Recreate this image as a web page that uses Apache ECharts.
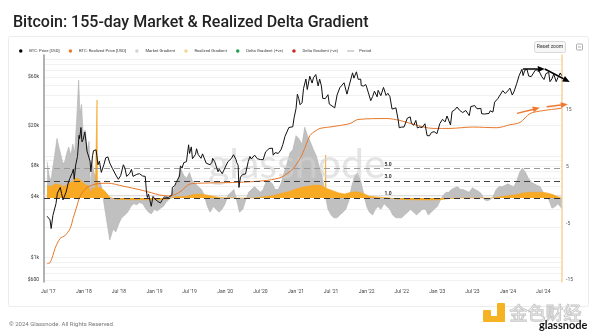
<!DOCTYPE html>
<html>
<head>
<meta charset="utf-8">
<script src="https://cdn.jsdelivr.net/npm/echarts@6/dist/echarts.min.js"></script>
<style>
html,body{margin:0;padding:0;background:#fff;}
#c{width:600px;height:335px;}
</style>
</head>
<body>
<div id="c"></div>
<script>
// ---------------- DATA ----------------
const btcPrice = [
['2017-06-25',2550],['2017-07-01',2480],['2017-07-10',2350],['2017-07-16',1930],['2017-07-25',2600],['2017-08-01',2720],['2017-08-10',3400],['2017-08-17',4300],['2017-08-25',4350],['2017-09-01',4900],['2017-09-08',4250],['2017-09-15',3700],['2017-09-22',3650],['2017-10-01',4400],['2017-10-12',5400],['2017-10-20',6000],['2017-11-01',6750],['2017-11-08',7450],['2017-11-12',5900],['2017-11-20',8200],['2017-11-29',9900],['2017-12-07',16000],['2017-12-10',14800],['2017-12-17',19100],['2017-12-22',13800],['2017-12-28',14500],['2018-01-06',17200],['2018-01-12',13900],['2018-01-17',11200],['2018-01-25',11200],['2018-02-02',8900],['2018-02-06',7000],['2018-02-15',10100],['2018-02-20',11300],['2018-03-01',10900],['2018-03-05',11500],['2018-03-15',8200],['2018-03-22',8900],['2018-04-01',6900],['2018-04-06',6600],['2018-04-15',8300],['2018-04-24',9600],['2018-05-05',9800],['2018-05-15',8500],['2018-05-29',7500],['2018-06-08',7600],['2018-06-15',6500],['2018-06-28',5900],['2018-07-10',6400],['2018-07-24',8200],['2018-08-01',7600],['2018-08-10',6300],['2018-08-14',6100],['2018-08-25',6700],['2018-09-04',7400],['2018-09-12',6300],['2018-09-20',6500],['2018-10-01',6600],['2018-10-15',6700],['2018-11-01',6350],['2018-11-14',6300],['2018-11-20',4500],['2018-11-25',3900],['2018-12-01',4200],['2018-12-15',3200],['2018-12-24',4000],['2019-01-01',3800],['2019-01-10',3650],['2019-01-20',3550],['2019-02-01',3450],['2019-02-08',3650],['2019-02-20',3950],['2019-03-01',3800],['2019-03-15',3900],['2019-04-01',4150],['2019-04-03',4900],['2019-04-15',5100],['2019-04-23',5500],['2019-05-01',5350],['2019-05-10',6350],['2019-05-15',8000],['2019-05-23',7600],['2019-06-01',8600],['2019-06-15',8800],['2019-06-26',12900],['2019-07-01',10600],['2019-07-10',12300],['2019-07-16',9400],['2019-08-01',10400],['2019-08-06',11800],['2019-08-15',10300],['2019-08-29',9500],['2019-09-06',10500],['2019-09-15',10300],['2019-09-25',8500],['2019-10-01',8300],['2019-10-15',8200],['2019-10-25',8700],['2019-10-28',9500],['2019-11-08',8800],['2019-11-15',8500],['2019-11-25',7000],['2019-12-01',7400],['2019-12-17',6700],['2019-12-25',7250],['2020-01-01',7200],['2020-01-15',8800],['2020-02-01',9400],['2020-02-13',10300],['2020-02-25',9300],['2020-03-01',8600],['2020-03-08',8100],['2020-03-12',4900],['2020-03-20',6200],['2020-04-01',6600],['2020-04-15',6650],['2020-04-29',8800],['2020-05-08',9900],['2020-05-15',9350],['2020-06-01',10200],['2020-06-15',9400],['2020-07-01',9230],['2020-07-15',9200],['2020-07-28',11000],['2020-08-15',11850],['2020-09-01',11950],['2020-09-05',10200],['2020-09-15',10800],['2020-10-01',10600],['2020-10-15',11500],['2020-10-25',13000],['2020-11-05',15600],['2020-11-15',16000],['2020-11-25',19100],['2020-12-01',19700],['2020-12-15',19400],['2020-12-22',23800],['2021-01-01',29400],['2021-01-08',40600],['2021-01-15',36800],['2021-01-22',32000],['2021-02-01',33500],['2021-02-09',46500],['2021-02-21',57400],['2021-02-28',45200],['2021-03-13',61200],['2021-03-25',52300],['2021-04-01',59000],['2021-04-13',63500],['2021-04-25',49000],['2021-05-03',57200],['2021-05-12',49200],['2021-05-19',37000],['2021-06-01',36700],['2021-06-15',40200],['2021-06-22',32500],['2021-07-01',33500],['2021-07-20',29800],['2021-08-01',39900],['2021-08-15',47000],['2021-09-06',52700],['2021-09-21',40700],['2021-10-01',48200],['2021-10-20',66000],['2021-10-27',58500],['2021-11-09',67500],['2021-11-18',56900],['2021-12-01',57200],['2021-12-04',49400],['2021-12-15',48900],['2021-12-27',50600],['2022-01-01',47700],['2022-01-10',41800],['2022-01-22',35100],['2022-02-01',38700],['2022-02-10',43500],['2022-02-24',38300],['2022-03-01',44400],['2022-03-15',39300],['2022-03-29',47400],['2022-04-11',39500],['2022-04-20',41500],['2022-05-01',38500],['2022-05-12',29000],['2022-05-20',29200],['2022-06-01',29800],['2022-06-13',22500],['2022-06-18',19000],['2022-07-01',19300],['2022-07-13',19300],['2022-07-30',23600],['2022-08-14',24300],['2022-08-20',21100],['2022-09-01',20100],['2022-09-12',22400],['2022-09-20',18900],['2022-10-01',19300],['2022-10-15',19100],['2022-10-29',20800],['2022-11-05',21200],['2022-11-09',15900],['2022-11-21',15800],['2022-12-01',17000],['2022-12-15',17400],['2022-12-30',16600],['2023-01-14',20900],['2023-01-28',23000],['2023-02-10',21700],['2023-02-20',24800],['2023-03-10',20200],['2023-03-18',27400],['2023-04-01',28500],['2023-04-13',30400],['2023-04-25',28300],['2023-05-12',26800],['2023-05-28',28100],['2023-06-15',25000],['2023-06-23',30700],['2023-07-13',31400],['2023-07-25',29200],['2023-08-14',29400],['2023-08-18',26100],['2023-09-01',25900],['2023-09-11',25200],['2023-09-25',26300],['2023-10-01',27900],['2023-10-15',27100],['2023-10-24',33900],['2023-11-09',36700],['2023-11-15',37900],['2023-12-05',44000],['2023-12-18',41300],['2024-01-01',44100],['2024-01-11',46600],['2024-01-23',39900],['2024-02-01',43000],['2024-02-15',51800],['2024-02-28',62400],['2024-03-05',63800],['2024-03-13',71500],['2024-03-19',62000],['2024-03-27',69400],['2024-04-08',71600],['2024-04-17',61300],['2024-04-30',60600],['2024-05-08',61200],['2024-05-21',70100],['2024-06-06',70800],['2024-06-24',60300],['2024-07-05',56700],['2024-07-15',64800],['2024-07-29',66800],['2024-08-05',54000],['2024-08-15',57500],['2024-08-24',64100],['2024-09-06',54000],['2024-09-15',59200],['2024-09-27',65800],['2024-10-04',62100]
];
const realizedPrice = [
['2017-06-25',870],['2017-07-10',890],['2017-07-25',1050],['2017-08-05',1230],['2017-08-31',1540],['2017-09-26',1650],['2017-10-22',1930],['2017-11-06',2420],['2017-11-27',3250],['2017-12-07',3800],['2017-12-25',4400],['2018-01-17',4900],['2018-03-15',5350],['2018-05-06',5400],['2018-07-22',5050],['2018-10-18',4650],['2018-12-15',4350],['2019-01-28',4130],['2019-03-22',4030],['2019-05-13',4450],['2019-07-03',5300],['2019-08-24',5400],['2019-12-01',5450],['2020-03-02',5500],['2020-07-15',5700],['2020-10-10',6100],['2020-11-20',6800],['2020-12-17',7500],['2021-01-15',9000],['2021-02-06',10800],['2021-03-14',15900],['2021-04-10',17600],['2021-05-05',18700],['2021-07-11',19500],['2021-10-07',20900],['2021-11-17',22900],['2022-04-16',23400],['2022-06-22',22400],['2022-09-01',20500],['2022-12-10',18700],['2023-03-07',18700],['2023-07-01',19300],['2023-11-05',19000],['2024-01-10',20300],['2024-03-03',21400],['2024-04-24',26200],['2024-06-30',28000],['2024-09-26',29400],['2024-10-04',29500]
];
const marketGradient = [
['2017-06-25',6.4],['2017-07-05',4.0],['2017-07-15',3.0],['2017-07-25',5.5],['2017-08-05',8.0],['2017-08-15',10.5],['2017-08-25',9.0],['2017-09-05',7.5],['2017-09-15',6.0],['2017-09-25',6.5],['2017-10-05',8.0],['2017-10-15',9.0],['2017-10-25',7.5],['2017-11-05',9.5],['2017-11-15',8.0],['2017-11-25',14.0],['2017-12-05',20.8],['2017-12-12',15.0],['2017-12-20',16.5],['2017-12-28',11.5],['2018-01-08',12.0],['2018-01-18',8.5],['2018-01-28',10.0],['2018-02-05',0.5],['2018-02-12',6.5],['2018-02-22',4.5],['2018-03-05',3.5],['2018-03-15',2.5],['2018-03-25',3.0],['2018-04-05',1.5],['2018-04-15',-1.0],['2018-05-01',-4.5],['2018-05-15',-7.4],['2018-06-01',-5.5],['2018-06-15',-6.0],['2018-07-01',-4.5],['2018-07-15',-3.5],['2018-08-01',-3.0],['2018-08-15',-2.5],['2018-09-01',-1.5],['2018-09-15',-1.0],['2018-10-01',-1.2],['2018-10-15',-0.8],['2018-11-01',-1.0],['2018-11-15',-1.8],['2018-12-01',-2.5],['2018-12-15',-2.8],['2019-01-01',-2.0],['2019-01-15',-2.3],['2019-02-01',-1.8],['2019-02-15',-1.5],['2019-03-01',-0.8],['2019-03-15',-0.3],['2019-04-01',0.8],['2019-04-15',2.0],['2019-05-01',3.0],['2019-05-15',5.3],['2019-06-01',4.0],['2019-06-15',3.5],['2019-07-01',4.5],['2019-07-15',3.0],['2019-08-01',2.5],['2019-08-15',2.0],['2019-09-01',1.5],['2019-09-15',0.5],['2019-10-01',-1.5],['2019-10-15',-2.5],['2019-11-01',-1.5],['2019-11-15',-2.0],['2019-12-01',-2.5],['2019-12-15',-2.0],['2020-01-01',-1.0],['2020-01-15',0.5],['2020-02-01',1.0],['2020-02-15',1.5],['2020-03-01',-0.5],['2020-03-15',-2.5],['2020-04-01',-2.0],['2020-04-15',-0.5],['2020-05-01',1.0],['2020-05-15',1.5],['2020-06-01',2.0],['2020-06-15',1.5],['2020-07-01',1.0],['2020-07-15',1.5],['2020-08-01',3.0],['2020-08-15',3.0],['2020-09-01',2.5],['2020-09-15',1.5],['2020-10-01',1.5],['2020-10-15',2.5],['2020-11-01',4.5],['2020-11-15',6.0],['2020-12-01',8.0],['2020-12-15',8.5],['2021-01-01',11.0],['2021-01-15',10.5],['2021-02-01',9.5],['2021-02-15',12.5],['2021-03-01',11.0],['2021-03-15',10.0],['2021-04-01',8.5],['2021-04-15',7.5],['2021-05-01',5.5],['2021-05-15',4.0],['2021-06-01',0.5],['2021-06-15',-2.0],['2021-07-01',-3.0],['2021-07-15',-3.5],['2021-08-01',-3.5],['2021-08-15',-3.0],['2021-09-01',-2.5],['2021-09-15',-2.0],['2021-10-01',-0.5],['2021-10-15',2.0],['2021-11-01',4.0],['2021-11-15',4.4],['2021-12-01',3.0],['2021-12-15',1.0],['2022-01-01',-1.5],['2022-01-15',-2.5],['2022-02-01',-3.0],['2022-02-15',-2.0],['2022-03-01',-1.5],['2022-03-15',-2.0],['2022-04-01',-1.0],['2022-04-15',-1.5],['2022-05-01',-2.0],['2022-05-15',-3.0],['2022-06-01',-3.5],['2022-06-15',-3.5],['2022-07-01',-3.5],['2022-07-15',-3.0],['2022-08-01',-2.5],['2022-08-15',-2.0],['2022-09-01',-2.5],['2022-09-15',-3.0],['2022-10-01',-2.5],['2022-10-15',-2.0],['2022-11-01',-2.0],['2022-11-15',-3.0],['2022-12-01',-2.5],['2022-12-15',-2.0],['2023-01-01',-1.5],['2023-01-15',-0.5],['2023-02-01',0.5],['2023-02-15',1.0],['2023-03-01',1.0],['2023-03-15',1.5],['2023-04-01',1.8],['2023-04-15',2.0],['2023-05-01',1.5],['2023-05-15',1.5],['2023-06-01',1.2],['2023-06-15',1.0],['2023-07-01',1.8],['2023-07-15',1.5],['2023-08-01',1.2],['2023-08-15',0.8],['2023-09-01',-0.3],['2023-09-15',-0.5],['2023-10-01',-0.3],['2023-10-15',0.2],['2023-11-01',1.5],['2023-11-15',2.0],['2023-12-01',2.0],['2023-12-15',2.2],['2024-01-01',2.5],['2024-01-15',2.2],['2024-02-01',2.0],['2024-02-15',3.0],['2024-03-01',4.5],['2024-03-15',5.3],['2024-04-01',4.5],['2024-04-15',3.5],['2024-05-01',2.8],['2024-05-15',2.5],['2024-06-01',2.2],['2024-06-15',2.0],['2024-07-01',1.0],['2024-07-15',0.5],['2024-08-01',-0.5],['2024-08-15',-1.8],['2024-09-01',-1.5],['2024-09-15',-1.0],['2024-10-04',-1.8]
];
const realizedGradient = [
['2017-06-25',2.2],['2017-07-15',2.0],['2017-08-05',2.5],['2017-09-01',2.3],['2017-09-20',2.0],['2017-10-10',2.5],['2017-11-01',2.8],['2017-11-20',3.5],['2017-12-10',3.3],['2017-12-25',2.8],['2018-01-10',2.3],['2018-01-25',2.2],['2018-02-05',0.8],['2018-02-12',1.8],['2018-03-01',1.6],['2018-03-08',1.7],['2018-03-10',17.3],['2018-03-12',1.7],['2018-03-25',1.9],['2018-04-10',1.5],['2018-04-25',1.0],['2018-05-10',0.3],['2018-05-25',0.0],['2018-06-15',-0.2],['2018-09-01',-0.3],['2018-12-01',-0.3],['2019-02-15',-0.3],['2019-03-20',-0.1],['2019-04-20',0.2],['2019-06-15',0.3],['2019-07-20',0.6],['2019-09-01',0.7],['2019-10-15',0.4],['2019-12-01',0.1],['2020-02-01',0.0],['2020-06-01',0.0],['2020-07-15',0.2],['2020-09-01',0.4],['2020-10-15',0.8],['2020-12-01',1.2],['2021-01-01',1.6],['2021-02-01',1.9],['2021-03-10',2.1],['2021-04-10',2.3],['2021-05-10',2.2],['2021-06-01',1.8],['2021-06-03',7.6],['2021-06-05',1.7],['2021-07-10',1.3],['2021-08-10',0.9],['2021-09-10',0.7],['2021-10-10',1.0],['2021-11-10',1.1],['2021-12-15',0.8],['2022-01-15',0.3],['2022-03-01',0.15],['2022-05-01',0.0],['2022-06-15',-0.2],['2022-08-15',-0.3],['2022-11-01',-0.35],['2023-01-15',-0.3],['2023-03-01',-0.1],['2023-05-01',0.0],['2023-10-15',0.0],['2023-11-20',0.2],['2024-01-01',0.4],['2024-02-15',0.6],['2024-03-20',0.9],['2024-05-01',1.0],['2024-06-20',1.0],['2024-07-20',0.9],['2024-08-20',0.6],['2024-09-15',0.2],['2024-10-04',0.0]
];
const xRange = ['2017-06-09', '2024-10-06'];
const xTickDates = ['2017-07-01','2018-01-01','2018-07-01','2019-01-01','2019-07-01','2020-01-01','2020-07-01','2021-01-01','2021-07-01','2022-01-01','2022-07-01','2023-01-01','2023-07-01','2024-01-01','2024-07-01'];
const priceTicks = [600, 1000, 4000, 8000, 20000, 60000];
const priceGrid = [600,700,800,900,1000,2000,3000,4000,5000,6000,7000,8000,9000,10000,20000,30000,40000,50000,60000,70000,80000,90000];
const gradientTicks = [-15, -5, 5, 15];
const periodLevels = [5.24, 3.0, 0];
const periodLabels = ['5.0', '3.0', '1.0'];
const periodLabelDate = '2022-04-21';
const blackArrows = [[['2024-03-18',72000],['2024-07-09',72000]], [['2024-07-09',72000],['2024-11-15',53600]]];
const orangeArrows = [[['2024-02-16',26300],['2024-06-13',29900]], [['2024-07-19',30600],['2024-11-05',32300]]];

// ---------------- CHART ----------------
const ts = s => +echarts.time.parse(s);
const chart = echarts.init(document.getElementById('c'));
const FONT = 'Roboto';
const periodColors = ['#9a9a9a', '#444', '#333'];
const MON = ['Jan','Feb','Mar','Apr','May','Jun','Jul','Aug','Sep','Oct','Nov','Dec'];

const option = {
  animation: false,
  textStyle: { fontFamily: FONT },
  title: {
    text: 'Bitcoin: 155-day Market & Realized Delta Gradient',
    left: 8, top: 10,
    textStyle: { fontSize: 16, fontWeight: 500, color: '#222', fontFamily: FONT }
  },
  legend: {
    left: 14, top: 44,
    itemWidth: 7, itemHeight: 3.5, itemGap: 9,
    textStyle: { fontSize: 4.2, color: '#444' },
    data: [
      { name: 'BTC: Price [USD]', icon: 'circle', itemStyle: { color: '#000' } },
      { name: 'BTC: Realized Price [USD]', icon: 'circle', itemStyle: { color: '#ea7a2c' } },
      { name: 'Market Gradient', icon: 'circle', itemStyle: { color: '#d2d2d2' } },
      { name: 'Realized Gradient', icon: 'circle', itemStyle: { color: '#f7d38c' } },
      { name: 'Delta Gradient (+ve)', icon: 'circle', itemStyle: { color: '#1f9d50' } },
      { name: 'Delta Gradient (-ve)', icon: 'circle', itemStyle: { color: '#c62828' } },
      { name: 'Period', icon: 'path://M0,0H10V1H0Z', itemStyle: { color: '#888' } }
    ]
  },
  grid: { left: 44, right: 38, top: 55, bottom: 53 },
  xAxis: [
    {
      type: 'time', min: xRange[0], max: xRange[1],
      axisLine: { lineStyle: { color: '#dedede' } },
      axisTick: { show: false }, splitLine: { show: false },
      axisLabel: { show: false }
    },
    {
      type: 'value', min: ts(xRange[0]), max: ts(xRange[1]), position: 'bottom',
      axisLine: { show: false }, axisTick: { show: false }, splitLine: { show: false },
      axisLabel: {
        customValues: xTickDates.map(ts),
        fontSize: 5, color: '#444', margin: 7,
        formatter: function (v) {
          const d = new Date(v);
          return MON[d.getMonth()] + " '" + String(d.getFullYear()).slice(2);
        }
      }
    }
  ],
  yAxis: [
    {
      type: 'log', logBase: 10, min: 574, max: 98900, position: 'left',
      axisLine: { show: true, lineStyle: { color: '#999', width: 1.5 } },
      axisTick: { show: false, customValues: priceGrid },
      splitLine: { show: true, lineStyle: { color: '#f1f1f1', width: 1 } },
      axisLabel: {
        customValues: priceTicks, fontSize: 5, color: '#333', margin: 5,
        formatter: function (v) {
          const r = Math.round(v);
          return r >= 1000 ? '$' + Math.round(r / 1000) + 'k' : '$' + r;
        }
      }
    },
    {
      type: 'value', min: -15.35, max: 24.7, position: 'right',
      axisLine: { show: true, lineStyle: { color: '#f7d29a', width: 1.5 } },
      axisTick: { show: false },
      splitLine: { show: false },
      axisLabel: { customValues: gradientTicks, fontSize: 5, color: '#555', margin: 4 }
    },
    {
      type: 'value', min: -14.82, max: 25.23, show: false, position: 'right',
      splitLine: { show: false }
    }
  ],
  series: [
    {
      name: 'Market Gradient', type: 'line', yAxisIndex: 2, z: 1,
      data: marketGradient, symbol: 'none', silent: true,
      lineStyle: { width: 0.6, color: '#b2b2b2' },
      itemStyle: { color: '#bdbdbd' },
      areaStyle: { color: '#c0c0c0', opacity: 1 },
      markLine: {
        silent: true, symbol: 'none',
        label: { show: false },
        lineStyle: { type: [6, 4], width: 1.2 },
        data: periodLevels.map((v, i) => ({ yAxis: v, lineStyle: { color: periodColors[i] } }))
      },
      markPoint: {
        silent: true, symbol: 'rect', symbolSize: 1,
        itemStyle: { color: 'rgba(0,0,0,0)' },
        label: { show: true, formatter: '{b}', fontSize: 5, fontWeight: 'bold', color: '#333', offset: [0, -4] },
        data: periodLevels.map((v, i) => ({ name: periodLabels[i], coord: [periodLabelDate, v] }))
      }
    },
    {
      name: 'Realized Gradient', type: 'line', yAxisIndex: 2, z: 2,
      data: realizedGradient, symbol: 'none', silent: true,
      lineStyle: { width: 0.6, color: '#f6a520' },
      itemStyle: { color: '#f7d38c' },
      areaStyle: { color: '#f8aa25', opacity: 1 }
    },
    {
      name: 'BTC: Realized Price [USD]', type: 'line', yAxisIndex: 0, z: 4,
      data: realizedPrice, symbol: 'none', smooth: 0.3, silent: true,
      lineStyle: { width: 1, color: '#e8782a' }, itemStyle: { color: '#ea7a2c' }
    },
    {
      name: 'BTC: Price [USD]', type: 'line', yAxisIndex: 0, z: 5,
      data: btcPrice, symbol: 'none', silent: true,
      lineStyle: { width: 1, color: '#111' }, itemStyle: { color: '#000' }
    },
    { name: 'Delta Gradient (+ve)', type: 'line', data: [], itemStyle: { color: '#1f9d50' } },
    { name: 'Delta Gradient (-ve)', type: 'line', data: [], itemStyle: { color: '#c62828' } },
    { name: 'Period', type: 'line', data: [], itemStyle: { color: '#888' } }
  ]
};
chart.setOption(option);

// ---------------- GRAPHICS (annotations, decorations) ----------------
function arrowEls(seg, color, width, idp) {
  const p1 = chart.convertToPixel({ xAxisIndex: 0, yAxisIndex: 0 }, seg[0]);
  const p2 = chart.convertToPixel({ xAxisIndex: 0, yAxisIndex: 0 }, seg[1]);
  const dx = p2[0] - p1[0], dy = p2[1] - p1[1];
  const len = Math.sqrt(dx * dx + dy * dy);
  const ux = dx / len, uy = dy / len, nx = -uy, ny = ux;
  const L = 7, W = 6;
  const bx = p2[0] - L * ux, by = p2[1] - L * uy;
  return [
    { type: 'line', id: idp + 'l', z: 50, shape: { x1: p1[0], y1: p1[1], x2: bx, y2: by }, style: { stroke: color, lineWidth: width } },
    { type: 'polygon', id: idp + 'h', z: 50, shape: { points: [[p2[0], p2[1]], [bx + nx * W / 2, by + ny * W / 2], [bx - nx * W / 2, by - ny * W / 2]] }, style: { fill: color } }
  ];
}
let els = [
  { type: 'rect', id: 'card', z: -10, shape: { x: 8.5, y: 36.5, width: 580, height: 270, r: 2 }, style: { fill: '#fff', stroke: '#ececec', lineWidth: 1 } },
  { type: 'text', id: 'wm', z: 3, left: 208, top: 144, style: { text: 'glassnode', fontSize: 41, fontFamily: 'Lato', fill: 'rgba(210,210,210,0.6)' } },
  { type: 'rect', id: 'rz', z: 10, shape: { x: 534.5, y: 41.5, width: 31, height: 11, r: 2 }, style: { fill: '#f7f7f7', stroke: '#cfcfcf', lineWidth: 0.8 } },
  { type: 'text', id: 'rzt', z: 11, x: 550, y: 47, style: { text: 'Reset zoom', fontSize: 5, fontFamily: FONT, fill: '#333', align: 'center', verticalAlign: 'middle' } },
  { type: 'rect', id: 'ic1', z: 10, shape: { x: 576.5, y: 44, width: 6, height: 6, r: 1 }, style: { fill: 'none', stroke: '#999', lineWidth: 0.8 } },
  { type: 'line', id: 'ic2', z: 10, shape: { x1: 578, y1: 47, x2: 581, y2: 47 }, style: { stroke: '#999', lineWidth: 0.8 } },
  { type: 'text', id: 'foot', z: 10, left: 9, top: 321, style: { text: '© 2024 Glassnode. All Rights Reserved.', fontSize: 6, fontFamily: FONT, fill: '#777' } },
  { type: 'rect', id: 'lg1', z: 10, shape: { x: 483, y: 310, width: 8, height: 7, r: 1 }, style: { fill: '#f5b324' } },
  { type: 'rect', id: 'lg2', z: 10, shape: { x: 497, y: 303, width: 8, height: 19, r: 1 }, style: { fill: '#f5b324' } },
  { type: 'rect', id: 'lg3', z: 10, shape: { x: 483, y: 316, width: 22, height: 6, r: 1 }, style: { fill: '#f5b324' } },
  { type: 'text', id: 'lgt', z: 10, left: 509, top: 304, style: { text: '金色财经', fontSize: 18, fontFamily: 'Noto Sans CJK SC', fill: 'rgba(255,255,255,0.2)', stroke: '#c4c4c4', lineWidth: 1 } },
  { type: 'text', id: 'lgg', z: 11, left: 539, top: 320, style: { text: 'glassnode', fontSize: 11, fontFamily: 'Lato', fontWeight: 'bold', fill: '#111' } }
];
blackArrows.forEach((s, i) => { els = els.concat(arrowEls(s, '#000', 1.5, 'ba' + i)); });
orangeArrows.forEach((s, i) => { els = els.concat(arrowEls(s, '#f07830', 1.5, 'oa' + i)); });
chart.setOption({ graphic: { elements: els } });
</script>
</body>
</html>
